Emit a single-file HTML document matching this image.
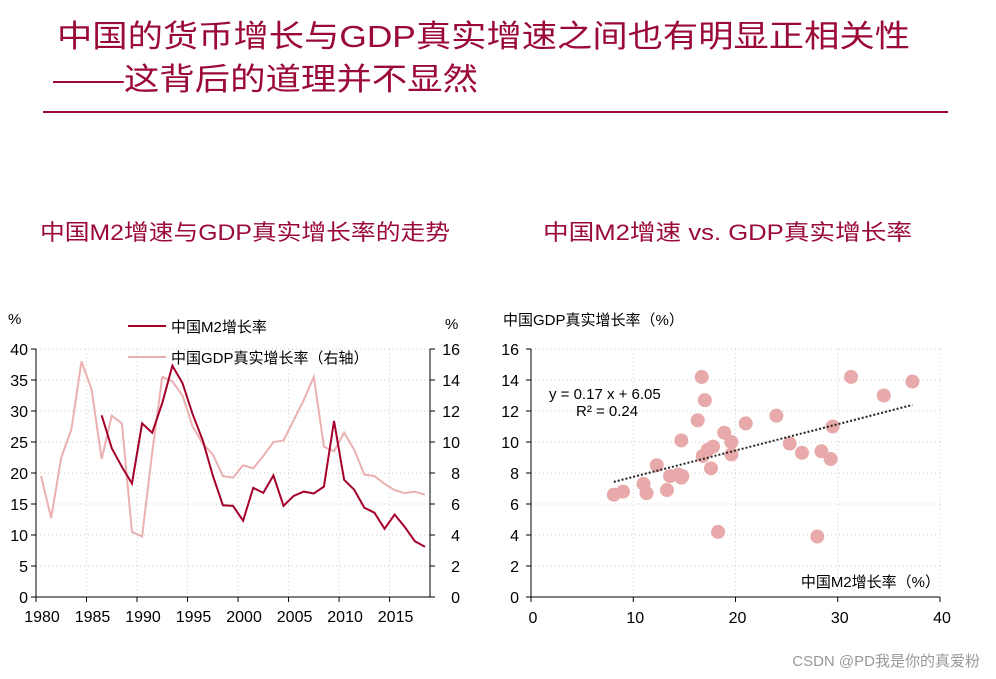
<!DOCTYPE html>
<html><head><meta charset="utf-8"><style>
html,body{margin:0;padding:0;background:#fff;}
svg{display:block;font-family:"Liberation Sans","Noto Sans CJK SC",sans-serif;}
</style></head><body>
<svg id="root" width="996" height="679" viewBox="0 0 996 679">
<text x="57" y="47" font-size="31" fill="#9B0A37" textLength="853" lengthAdjust="spacingAndGlyphs">中国的货币增长与GDP真实增速之间也有明显正相关性</text>
<text x="53" y="90" font-size="31" fill="#9B0A37" textLength="425" lengthAdjust="spacingAndGlyphs">——这背后的道理并不显然</text>
<rect x="43" y="111" width="905" height="2" fill="#9B0A37"/>
<text x="40" y="240" font-size="22" fill="#9B0A37" textLength="410" lengthAdjust="spacingAndGlyphs">中国M2增速与GDP真实增长率的走势</text>
<text x="543" y="240" font-size="22" fill="#9B0A37" textLength="369" lengthAdjust="spacingAndGlyphs">中国M2增速  vs.  GDP真实增长率</text>
<g id="left"></g>
<g id="right"></g>
<text x="980" y="666" font-size="15" fill="#999" text-anchor="end">CSDN @PD我是你的真爱粉</text>
</svg>
<script>
const years = [1980,1981,1982,1983,1984,1985,1986,1987,1988,1989,1990,1991,1992,1993,1994,1995,1996,1997,1998,1999,2000,2001,2002,2003,2004,2005,2006,2007,2008,2009,2010,2011,2012,2013,2014,2015,2016,2017,2018];
const gdp = [7.8,5.1,9.0,10.8,15.2,13.4,8.9,11.7,11.2,4.2,3.9,9.3,14.2,13.9,13.0,11.0,9.9,9.2,7.8,7.7,8.5,8.3,9.1,10.0,10.1,11.4,12.7,14.2,9.7,9.4,10.6,9.5,7.9,7.8,7.3,6.9,6.7,6.8,6.6];
const m2Years = [1986,1987,1988,1989,1990,1991,1992,1993,1994,1995,1996,1997,1998,1999,2000,2001,2002,2003,2004,2005,2006,2007,2008,2009,2010,2011,2012,2013,2014,2015,2016,2017,2018];
const m2 = [29.3,24.0,21.0,18.3,28.0,26.5,31.3,37.3,34.5,29.5,25.3,19.6,14.8,14.7,12.3,17.6,16.8,19.6,14.7,16.3,17.0,16.7,17.8,28.4,18.9,17.3,14.4,13.6,11.0,13.3,11.3,9.0,8.1];
const leftTicks = [0,5,10,15,20,25,30,35,40];
const rightTicks = [0,2,4,6,8,10,12,14,16];
const yearTicks = [1980,1985,1990,1995,2000,2005,2010,2015];
const scatterXTicks = [0,10,20,30,40];
const scatterYTicks = [0,2,4,6,8,10,12,14,16];
const slope = 0.17, intercept = 6.05;

const NS='http://www.w3.org/2000/svg';
function mk(parent,tag,attrs,text){const e=document.createElementNS(NS,tag);for(const k in attrs)e.setAttribute(k,attrs[k]);if(text!==undefined)e.textContent=text;parent.appendChild(e);return e;}
const DARK='#A5002A', LIGHT='#EBB0B0';

const L=document.getElementById('left');
const x0=36,x1=430,yT=349,yB=597;
const xs=y=>x0+(y-1980)/(2019-1980)*(x1-x0);
const yl=v=>yB-v/40*(yB-yT);
const yr=v=>yB-v/16*(yB-yT);
leftTicks.forEach(t=>{
  if(t>0){const g=mk(L,'line',{x1:x0,x2:x1,y1:yl(t),y2:yl(t),stroke:'#ccc','stroke-dasharray':'1,3'});
  }
  const tk=mk(L,'line',{x1:x0-5,x2:x0,y1:yl(t),y2:yl(t),stroke:'#000'});
  
  const tx=mk(L,'text',{x:x0-8,y:yl(t)+6,'font-size':16,'text-anchor':'end',fill:'#000'},t);
  
});
rightTicks.forEach(t=>{
  const tk=mk(L,'line',{x1:x1,x2:x1+5,y1:yr(t),y2:yr(t),stroke:'#000'});
  
  const tx=mk(L,'text',{x:x1+30,y:yr(t)+6,'font-size':16,'text-anchor':'end',fill:'#000'},t);
  
});
yearTicks.forEach(t=>{
  if(t>1980){const g=mk(L,'line',{x1:xs(t),x2:xs(t),y1:yT,y2:yB,stroke:'#ccc','stroke-dasharray':'1,3'});
  }
  const tk=mk(L,'line',{x1:xs(t),x2:xs(t),y1:yB,y2:yB+5,stroke:'#000'});
  
  const tx=mk(L,'text',{x:xs(t)+6,y:yB+25,'font-size':16,'text-anchor':'middle',fill:'#000'},t);
  
});
let ax=mk(L,'line',{x1:x0,x2:x0,y1:yT,y2:yB,stroke:'#000'});
ax=mk(L,'line',{x1:x1,x2:x1,y1:yT,y2:yB,stroke:'#000'});
ax=mk(L,'line',{x1:x0,x2:x1,y1:yB,y2:yB,stroke:'#000'});
let u=mk(L,'text',{x:8,y:324,'font-size':15},'%');
u=mk(L,'text',{x:445,y:329,'font-size':15},'%');
const gdpLine=mk(L,'polyline',{points:years.map((y,i)=>xs(y+0.5)+','+yr(gdp[i])).join(' '),fill:'none',stroke:LIGHT,'stroke-width':2});

const m2Line=mk(L,'polyline',{points:m2Years.map((y,i)=>xs(y+0.5)+','+yl(m2[i])).join(' '),fill:'none',stroke:DARK,'stroke-width':2});

let lg=mk(L,'line',{x1:128,x2:166,y1:326,y2:326,stroke:DARK,'stroke-width':2});
lg=mk(L,'text',{x:171,y:332,'font-size':15},'中国M2增长率');
lg=mk(L,'line',{x1:128,x2:166,y1:357,y2:357,stroke:LIGHT,'stroke-width':2});
lg=mk(L,'text',{x:171,y:363,'font-size':15},'中国GDP真实增长率（右轴）');

const R=document.getElementById('right');
const sx0=531,sx1=940;
const sx=v=>sx0+v/40*(sx1-sx0);
const sy=v=>yB-v/16*(yB-yT);
scatterYTicks.forEach(t=>{
  if(t>0){const g=mk(R,'line',{x1:sx0,x2:sx1,y1:sy(t),y2:sy(t),stroke:'#ccc','stroke-dasharray':'1,3'});
  }
  const tk=mk(R,'line',{x1:sx0-5,x2:sx0,y1:sy(t),y2:sy(t),stroke:'#000'});
  
  const tx=mk(R,'text',{x:sx0-12,y:sy(t)+6,'font-size':16,'text-anchor':'end'},t);
  
});
scatterXTicks.forEach(t=>{
  if(t>0){const g=mk(R,'line',{x1:sx(t),x2:sx(t),y1:yT,y2:yB,stroke:'#ccc','stroke-dasharray':'1,3'});
  }
  const tk=mk(R,'line',{x1:sx(t),x2:sx(t),y1:yB,y2:yB+5,stroke:'#000'});
  
  const tx=mk(R,'text',{x:sx(t)+2,y:yB+26,'font-size':16,'text-anchor':'middle'},t);
  
});
ax=mk(R,'line',{x1:sx0,x2:sx0,y1:yT,y2:yB,stroke:'#000'});
ax=mk(R,'line',{x1:sx0,x2:sx1,y1:yB,y2:yB,stroke:'#000'});
m2Years.forEach((y,i)=>{
  const gi=years.indexOf(y);
  const c=mk(R,'circle',{cx:sx(m2[i]),cy:sy(gdp[gi]),r:7,fill:'#E7A9A9'});
  
});
const mn=Math.min(...m2),mx=Math.max(...m2);
const tl=mk(R,'line',{x1:sx(mn),y1:sy(slope*mn+intercept),x2:sx(mx),y2:sy(slope*mx+intercept),stroke:'#222','stroke-width':2,'stroke-dasharray':'2,2'});

let t=mk(R,'text',{x:549,y:399,'font-size':15},'y = 0.17 x + 6.05');
t=mk(R,'text',{x:576,y:416,'font-size':15},'R² = 0.24');
t=mk(R,'text',{x:503,y:325,'font-size':15},'中国GDP真实增长率（%）');
t=mk(R,'text',{x:940,y:587,'font-size':15,'text-anchor':'end'},'中国M2增长率（%）');
</script>
</body></html>
